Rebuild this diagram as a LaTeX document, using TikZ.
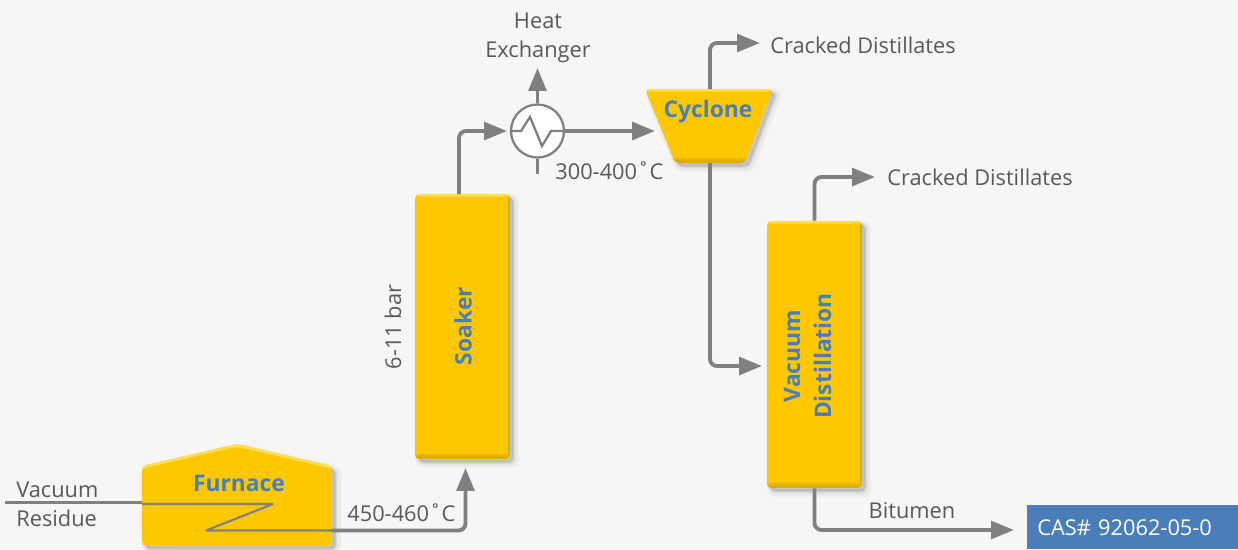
\documentclass[tikz,border=0pt]{standalone}
\usepackage{fontspec}
\setmainfont{Open Sans}
\usetikzlibrary{arrows.meta, positioning, shadows}

\definecolor{bggray}{HTML}{F6F6F6}
\definecolor{vesselgold}{HTML}{FDC800}
\definecolor{vesseldark}{HTML}{DDAE00}
\definecolor{vessellight}{HTML}{FFDD55}
\definecolor{linegray}{HTML}{808080}
\definecolor{textgray}{HTML}{595959}
\definecolor{labelblue}{HTML}{4A7EBB}

\begin{document}
\begin{tikzpicture}[
    x=0.02cm, y=-0.02cm,
    softshadow/.style={
        general shadow={shadow xshift=2.5pt, shadow yshift=-2.5pt, fill=black, draw=black, line width=6pt, opacity=.02},
        general shadow={shadow xshift=2.5pt, shadow yshift=-2.5pt, fill=black, draw=black, line width=4pt, opacity=.03},
        general shadow={shadow xshift=2pt, shadow yshift=-2pt, fill=black, draw=black, line width=2pt, opacity=.05},
        general shadow={shadow xshift=1.5pt, shadow yshift=-1.5pt, fill=black, opacity=.07}},
    vessel/.style={fill=vesselgold, rounded corners=2.5pt, inner sep=0pt, softshadow,
        path picture={
            \fill[vesseldark!60!vesselgold] ([yshift=3pt]path picture bounding box.south west) rectangle (path picture bounding box.south east);
            \fill[vesseldark] ([yshift=1.8pt]path picture bounding box.south west) rectangle (path picture bounding box.south east);
            \fill[vesseldark] ([xshift=-1.2pt]path picture bounding box.south east) rectangle (path picture bounding box.north east);
            \fill[vessellight] ([yshift=-1.5pt]path picture bounding box.north west) rectangle (path picture bounding box.north east);
        }},
    column/.style={vessel, minimum width=1.9cm},
    title/.style={text=labelblue, font=\fontsize{13}{17.6}\selectfont\bfseries, align=center, inner sep=0pt},
    tag/.style={text=textgray, font=\fontsize{12.4}{16.4}\selectfont, align=center, inner sep=0pt},
    conn/.style={-{Triangle[length=13pt, width=10pt]}, line width=2.2pt, linegray, rounded corners=4pt},
    feed/.style={line width=2.2pt, linegray},
    coil/.style={line width=1.2pt, linegray, line join=bevel}
]

% Background
\fill[bggray] (0, 0) rectangle (1238, 549);
\useasboundingbox (0, 0) rectangle (1238, 549);

% ==================== VESSELS ====================

\coordinate (roof_l) at (142, 466);
\coordinate (roof_t) at (237, 444);
\coordinate (roof_r) at (332, 466);
\path[vessel, path picture={\draw[vessellight, line width=3pt] (roof_l) -- (roof_t) -- (roof_r);}]
    (roof_l) -- (roof_t) -- (roof_r) -- (332, 546) -- (142, 546) -- cycle;
\node[title] (furnace) at (239, 483) {Furnace};

\node[column, minimum height=5.3cm] (soaker) at (462.5, 326.5) {};
\node[title, rotate=90] (soaker_t) at (463, 326) {Soaker};

\path[vessel] (645, 89) -- (773, 89) -- (745, 163) -- (675, 163) -- cycle;
\node[title] (cyclone_t) at (708, 112) {Cyclone};

\node[column, minimum height=5.34cm] (vacuum) at (814.5, 354.5) {};
\node[title, rotate=90] (vacuum_t) at (807.5, 356) {Vacuum\\Distillation};

% Heat exchanger
\node[circle, draw=linegray, fill=white, line width=1.3pt, minimum size=1.06cm, inner sep=0pt] (hx) at (537.5, 131) {};
\draw[line width=1.3pt, linegray] (hx.west) -- (521, 131) -- (530, 117) -- (542, 146) -- (551, 131) -- (hx.east);

% Label box
\node[fill=labelblue, text=white, font=\fontsize{12.4}{15}\selectfont, anchor=north west, minimum width=4.22cm, minimum height=0.88cm, inner sep=0pt, text width=3.82cm] (cas) at (1027, 505) {CAS\# 92062-05-0};

% ==================== CONNECTORS ====================

% Furnace feed and coil
\coordinate (feed_in) at (5, 502.5);
\coordinate (coil_a) at (142, 504);
\coordinate (coil_b) at (273, 504);
\coordinate (coil_c) at (206, 530.5);
\coordinate (coil_d) at (332, 530.5);
\draw[feed] (feed_in) -- (feed_in -| coil_a);
\draw[coil] (coil_a) -- (coil_b) -- (coil_c) -- (coil_d);

% Furnace to soaker
\coordinate (soaker_in) at (465.5, 468);
\draw[conn] (coil_d) -- (coil_d -| soaker_in) -- (soaker_in);

% Soaker to heat exchanger
\coordinate (soaker_out) at (459, 194);
\coordinate (hx_in) at (507, 131);
\draw[conn] (soaker_out) -- (soaker_out |- hx_in) -- (hx_in);

% Heat exchanger outlets
\coordinate (hx_up) at (537.5, 68);
\coordinate (hx_down) at (537.5, 174);
\coordinate (cyclone_in) at (655, 131);
\draw[conn] (hx.north) -- (hx_up);
\draw[feed] (hx.south) -- (hx_down);
\draw[conn] (hx.east) -- (cyclone_in);

% Cyclone outlets
\coordinate (cyclone_top) at (710, 89);
\coordinate (cyclone_bot) at (710, 163);
\coordinate (top_out) at (760, 43);
\coordinate (vacuum_in) at (762, 366);
\draw[conn] (cyclone_top) -- (cyclone_top |- top_out) -- (top_out);
\draw[conn] (cyclone_bot) -- (cyclone_bot |- vacuum_in) -- (vacuum_in);

% Vacuum distillation outlets
\coordinate (vac_out) at (875, 177);
\coordinate (bitumen_out) at (1014, 530);
\draw[conn] (vacuum.north) -- (vacuum.north |- vac_out) -- (vac_out);
\draw[conn] (vacuum.south) -- (vacuum.south |- bitumen_out) -- (bitumen_out);

% ==================== LABELS ====================

\node[tag, anchor=west] (vac_l) at (16, 489.5) {Vacuum};
\node[tag, anchor=west] (res_l) at (16, 518.5) {Residue};
\node[tag, anchor=west] (t_hot) at (347, 513) {450-460˚C};
\node[tag, anchor=west] (t_cool) at (555, 171) {300-400˚C};
\node[tag, rotate=90] (p_l) at (393, 327) {6-11 bar};
\node[tag] (hx_l) at (538, 37.5) {Heat\\Exchanger};
\node[tag, anchor=west] (top_l) at (770, 45) {Cracked Distillates};
\node[tag, anchor=west] (vac_top_l) at (887, 177) {Cracked Distillates};
\node[tag] (bit_l) at (912, 511) {Bitumen};

\end{tikzpicture}
\end{document}
